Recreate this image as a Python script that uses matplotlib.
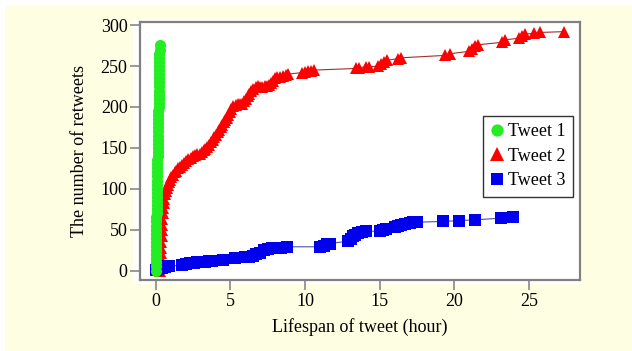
import matplotlib
matplotlib.use("Agg")
import matplotlib.pyplot as plt
from matplotlib.patches import Rectangle

plt.rcParams['font.family'] = ['Liberation Serif', 'DejaVu Serif']

# Tweet 1 (green): hours, cumulative retweets
t1_x = [0.00, 0.00, 0.01, 0.01, 0.02, 0.02, 0.03, 0.03, 0.04, 0.04, 0.05, 0.05,
        0.06, 0.06, 0.07, 0.07, 0.08, 0.08, 0.09, 0.09, 0.10, 0.10, 0.11, 0.11,
        0.12, 0.12, 0.13, 0.13, 0.14, 0.14, 0.15, 0.15, 0.16, 0.16, 0.17, 0.17,
        0.18, 0.18, 0.19, 0.19, 0.20, 0.20, 0.21, 0.21, 0.22, 0.22, 0.23, 0.23,
        0.24, 0.24, 0.25, 0.25, 0.26, 0.26, 0.27, 0.27]
t1_y = [0, 5, 10, 15, 20, 25, 30, 35, 40, 45, 50, 55,
        60, 65, 70, 75, 80, 85, 90, 95, 100, 105, 110, 115,
        120, 125, 130, 135, 140, 145, 150, 155, 160, 165, 170, 175,
        180, 185, 190, 195, 200, 205, 210, 215, 220, 225, 230, 235,
        240, 245, 250, 255, 260, 265, 270, 276]

# Tweet 2 (red)
t2_x = [0.30, 0.32, 0.34, 0.35, 0.37, 0.38, 0.40, 0.41, 0.43, 0.45, 0.48, 0.51,
        0.55, 0.59, 0.64, 0.69, 0.75, 0.82, 0.89, 0.97, 1.06, 1.16, 1.27, 1.39,
        1.52, 1.65, 1.78, 1.92, 2.06, 2.20, 2.35, 2.50, 2.65, 2.80, 2.95, 3.10,
        3.22, 3.34, 3.46, 3.58, 3.70, 3.82, 3.94, 4.05, 4.15, 4.25, 4.35, 4.45,
        4.55, 4.65, 4.75, 4.85, 4.95, 5.05, 5.20, 5.35, 5.50, 5.65, 5.80, 5.92,
        6.04, 6.16, 6.28, 6.40, 6.55, 6.70, 6.85, 7.00, 7.15, 7.30, 7.45, 7.60,
        7.75, 7.88, 8.00, 8.15, 8.30, 8.50, 8.70, 8.85, 9.80, 10.00, 10.20, 10.40,
        10.60, 13.40, 13.60, 14.10, 14.30, 14.90, 15.10, 15.30, 15.50, 16.20,
        16.40, 19.40, 19.70, 21.00, 21.20, 21.40, 21.60, 23.20, 23.40, 24.30,
        24.50, 24.70, 25.30, 25.70, 27.30]
t2_y = [0, 7, 14, 21, 28, 35, 42, 49, 56, 63, 70, 77,
        83, 88, 93, 97, 101, 105, 108, 111, 114, 117, 120, 122,
        125, 127, 129, 131, 134, 136, 138, 140, 141, 142, 143, 145,
        147, 149, 151, 154, 157, 160, 163, 166, 169, 172, 175, 178,
        181, 184, 187, 190, 194, 198, 201, 202, 203, 203, 204, 207,
        210, 213, 216, 219, 222, 224, 225, 224, 224, 225, 226, 227,
        229, 232, 235, 236, 237, 238, 239, 240, 242, 243, 244, 244,
        245, 247, 248, 249, 249, 250, 252, 255, 257, 259,
        260, 263, 265, 268, 271, 274, 276, 279, 282, 284,
        287, 289, 290, 291, 292]

# Tweet 3 (blue)
t3_x = [0.00, 0.15, 0.30, 0.45, 0.60, 0.75, 0.90, 1.80, 2.05, 2.30, 2.55, 2.80,
        3.05, 3.30, 3.55, 3.80, 4.50, 5.30, 6.00, 6.25, 6.50, 6.75, 7.00, 7.25,
        7.50, 7.80, 8.10, 8.40, 8.80, 11.00, 11.25, 11.50, 11.70, 12.90, 13.05,
        13.20, 13.35, 13.55, 13.80, 14.10, 15.00, 15.20, 15.40, 16.00, 16.20,
        16.45, 16.70, 17.00, 17.25, 17.50, 19.20, 20.30, 21.40, 23.10, 23.90]
t3_y = [1, 2, 3, 3, 4, 5, 5, 7, 8, 9, 9, 10,
        11, 11, 12, 12, 13, 15, 16, 17, 18, 20, 22, 25,
        26, 27, 27, 28, 29, 29, 30, 32, 33, 36, 39,
        42, 44, 46, 47, 48, 48, 50, 51, 53, 55,
        56, 57, 58, 59, 59, 60, 61, 62, 64, 65]

labels = ['Tweet 1', 'Tweet 2', 'Tweet 3']
x_ticks = [0, 5, 10, 15, 20, 25]
y_ticks = [0, 50, 100, 150, 200, 250, 300]

W, H = 632, 351
fig = plt.figure(figsize=(W / 100, H / 100), dpi=100, facecolor='white')

# yellow backdrop
fig.patches.append(Rectangle((5 / W, 0), 1 - 5 / W, 1 - 5 / H, transform=fig.transFigure,
                             facecolor='#FEFEE2', edgecolor='none', zorder=-10))
# white panel behind axes
fig.patches.append(Rectangle((133 / W, 1 - 284 / H), (582 - 133) / W, (284 - 19) / H,
                             transform=fig.transFigure, facecolor='white',
                             edgecolor='none', zorder=-9))

ax = fig.add_axes([140 / W, 1 - 280 / H, (580 - 140) / W, (280 - 22) / H])
ax.set_facecolor('white')

ax.plot(t1_x, t1_y, color='#22EE22', lw=1, marker='o', ms=8,
        markeredgewidth=0, label=labels[0], zorder=3)
ax.plot(t2_x, t2_y, color='#A03030', lw=0.8, marker='^', ms=9,
        markerfacecolor='#FF0000', markeredgewidth=0, label=labels[1], zorder=2)
ax.plot(t3_x, t3_y, color='#5050A8', lw=0.8, marker='s', ms=8,
        markerfacecolor='#0000EE', markeredgewidth=0, label=labels[2], zorder=2)

ax.set_xlim(-1.04, 28.4)
ax.set_ylim(-11.6, 303.8)
ax.set_xticks(x_ticks)
ax.set_yticks(y_ticks)
ax.tick_params(direction='out', length=7, width=1.2, color='#888888',
               labelsize=13, pad=2)
for s in ax.spines.values():
    s.set_color('#808080')
    s.set_linewidth(1.6)

ax.set_xlabel('Lifespan of tweet (hour)', fontsize=13, labelpad=6)
ax.set_ylabel('The number of retweets', fontsize=13, labelpad=9)

leg = ax.legend(loc='upper left', bbox_to_anchor=((483 - 140) / 440, 1 - (116 - 22) / 258),
                frameon=True, fancybox=False, fontsize=13, handlelength=0.7,
                handletextpad=0.3, borderpad=0.4, labelspacing=0.42,
                borderaxespad=0, markerscale=1.1)
leg.get_frame().set_edgecolor('black')
leg.get_frame().set_linewidth(1.0)
for h in leg.legend_handles:
    h.set_linestyle('none')

fig.savefig('out.png', dpi=100, facecolor=fig.get_facecolor())
